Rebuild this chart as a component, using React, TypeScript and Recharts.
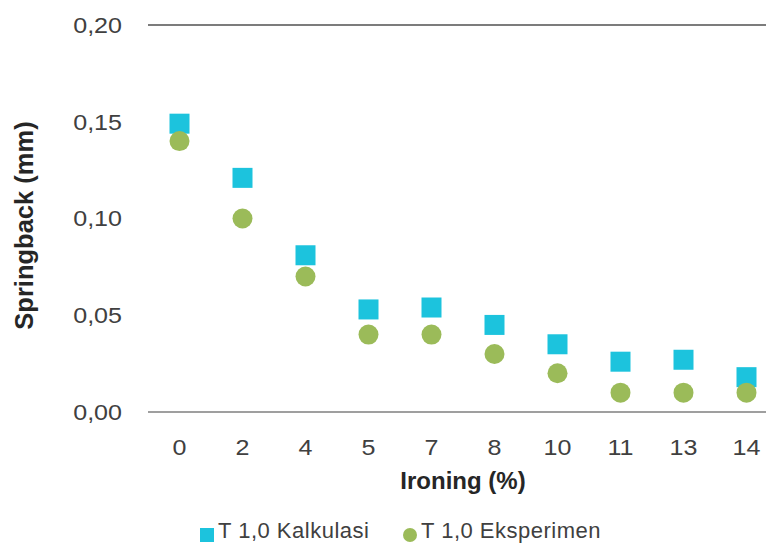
import React from "react";
import { ScatterChart, Scatter, XAxis, YAxis, ReferenceLine } from "recharts";

const categories = ["0", "2", "4", "5", "7", "8", "10", "11", "13", "14"];
const kalkulasi = [0.149, 0.121, 0.081, 0.053, 0.054, 0.045, 0.035, 0.026, 0.027, 0.018];
const eksperimen = [0.14, 0.1, 0.07, 0.04, 0.04, 0.03, 0.02, 0.01, 0.01, 0.01];
const yTicks = [0, 0.05, 0.1, 0.15, 0.2];

const seriesNames = ["T 1,0 Kalkulasi", "T 1,0 Eksperimen"];
const xTitle = "Ironing (%)";
const yTitle = "Springback (mm)";
const CYAN = "#1CC3DD";
const GREEN = "#9BBB59";

const kalkData = categories.map((c, i) => ({ i, v: kalkulasi[i] }));
const eksData = categories.map((c, i) => ({ i, v: eksperimen[i] }));
const xTicks = categories.map((c, i) => i);

const FONT = "'Liberation Sans', Arial, sans-serif";
const SX = 1.14;

const SquareShape = (p: any) => (
  <rect x={p.cx - 10} y={p.cy - 10} width={20} height={20} fill={CYAN} />
);
const CircleShape = (p: any) => <circle cx={p.cx} cy={p.cy} r={10} fill={GREEN} />;

const XTick = (p: any) => {
  const { x, y, payload } = p;
  return (
    <g transform={`translate(${x},${y}) scale(${SX},1)`}>
      <text x={0} y={0} dy="0.71em" textAnchor="middle" fontSize={22} fill="#404040" fontFamily={FONT}>
        {categories[payload.value]}
      </text>
    </g>
  );
};

const YTick = (p: any) => {
  const { x, y, payload } = p;
  return (
    <g transform={`translate(${x},${y}) scale(${SX},1)`}>
      <text x={0} y={0} dy="0.355em" textAnchor="end" fontSize={22} fill="#404040" fontFamily={FONT}>
        {payload.value.toFixed(2).replace(".", ",")}
      </text>
    </g>
  );
};

const XTitle = (p: any) => {
  const vb = p.viewBox;
  return (
    <text x={vb.x + vb.width / 2} y={vb.y + 77} textAnchor="middle" fontSize={24} fontWeight="bold" fill="#262626" fontFamily={FONT}>
      {xTitle}
    </text>
  );
};

const YTitle = (p: any) => {
  const vb = p.viewBox;
  const cx = 33;
  const cy = vb.y + vb.height / 2 + 7;
  return (
    <text x={cx} y={cy} transform={`rotate(-90, ${cx}, ${cy})`} textAnchor="middle" fontSize={25.5} fontWeight="bold" fill="#262626" fontFamily={FONT}>
      {yTitle}
    </text>
  );
};

const LegendBox = () => (
  <div style={{ position: "absolute", left: 0, top: 0, width: 766, height: 545, fontFamily: FONT, fontSize: 22, color: "#404040", pointerEvents: "none" }}>
    <span style={{ position: "absolute", left: 200, top: 528, width: 14, height: 14, background: CYAN }} />
    <span style={{ position: "absolute", left: 218, top: 520, lineHeight: "22px", whiteSpace: "nowrap", letterSpacing: 0.5 }}>{seriesNames[0]}</span>
    <span style={{ position: "absolute", left: 403, top: 528, width: 14, height: 14, borderRadius: 7, background: GREEN }} />
    <span style={{ position: "absolute", left: 421, top: 520, lineHeight: "22px", whiteSpace: "nowrap", letterSpacing: 0.5 }}>{seriesNames[1]}</span>
  </div>
);

export default function App() {
  return (
    <div style={{ position: "absolute", left: 0, top: 0, width: 766, height: 545, overflow: "hidden", background: "#fff" }}>
      <ScatterChart width={780} height={545} margin={{ top: 25, right: 2, bottom: 0, left: 0 }}>
        <XAxis
          type="number"
          dataKey="i"
          domain={[-0.5, 9.5]}
          ticks={xTicks}
          tickSize={0}
          tickMargin={27}
          axisLine={{ stroke: "#404040", strokeWidth: 1.2 }}
          tick={XTick}
          height={133}
          interval={0}
          label={XTitle}
        />
        <YAxis
          type="number"
          dataKey="v"
          domain={[0, 0.2]}
          ticks={yTicks}
          tickSize={0}
          tickMargin={26}
          axisLine={false}
          width={148}
          tick={YTick}
          label={YTitle}
        />
        <ReferenceLine y={0.2} stroke="#505050" strokeWidth={1.6} />
        <Scatter name={seriesNames[0]} data={kalkData} shape={SquareShape} isAnimationActive={false} />
        <Scatter name={seriesNames[1]} data={eksData} shape={CircleShape} isAnimationActive={false} />
      </ScatterChart>
      <LegendBox />
    </div>
  );
}
